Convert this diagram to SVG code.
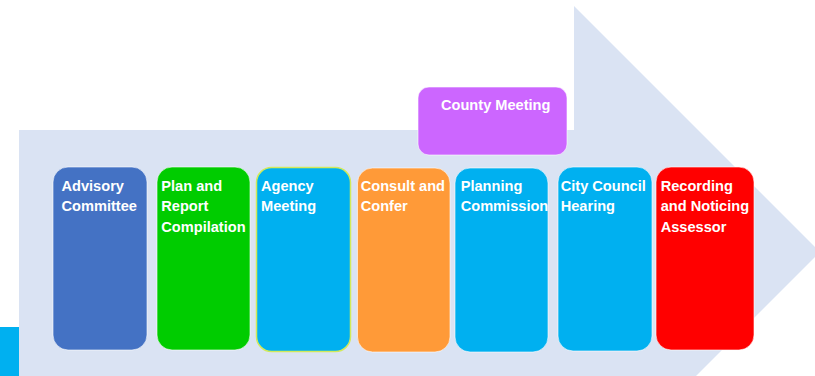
<svg xmlns="http://www.w3.org/2000/svg" width="815" height="376" viewBox="0 0 815 376">
<style>
.lbl{font-family:"Liberation Sans",Arial,sans-serif;font-weight:bold;font-size:14.6px;fill:#FFFFFF}
.box{stroke:#FFFFFF;stroke-opacity:0.6;stroke-width:1}
</style>
<rect width="815" height="376" fill="#FFFFFF"/>
<g id="arrow">
<polygon points="19,130 574,130 574,6 820,252 574,498 574,376 19,376" fill="#DAE3F3"/>
</g>
<rect x="0" y="327" width="19" height="49" fill="#00B0F0"/>
<g id="connectors"></g>
<g id="county">
<rect class="box" x="418" y="87" width="149" height="68" rx="11" fill="#CC66FF"/>
<text class="lbl" x="441" y="110">County Meeting</text>
</g>
<g id="advisory">
<rect class="box" x="53" y="167" width="94" height="183" rx="15" fill="#4472C4"/>
<text class="lbl" x="61.5" y="190.7">Advisory</text>
<text class="lbl" x="61.5" y="211.4">Committee</text>
</g>
<g id="plan">
<rect class="box" x="157" y="167" width="93" height="183" rx="15" fill="#00CC00"/>
<text class="lbl" x="161.3" y="190.7">Plan and</text>
<text class="lbl" x="161.3" y="211.4">Report</text>
<text class="lbl" x="161.3" y="232.1">Compilation</text>
</g>
<g id="agency">
<rect x="256.5" y="167.5" width="94" height="184" rx="15" fill="#00B0F0" stroke="#D2EA5A" stroke-width="1.5"/>
<text class="lbl" x="261" y="190.7">Agency</text>
<text class="lbl" x="261" y="211.4">Meeting</text>
</g>
<g id="consult">
<rect class="box" x="357.5" y="168" width="92.5" height="184" rx="15" fill="#FF9A38"/>
<text class="lbl" x="360.7" y="190.7">Consult and</text>
<text class="lbl" x="360.7" y="211.4">Confer</text>
</g>
<g id="planning">
<rect class="box" x="455" y="168" width="93" height="184" rx="15" fill="#00B0F0"/>
<text class="lbl" x="460.7" y="190.7">Planning</text>
<text class="lbl" x="460.7" y="211.4">Commission</text>
</g>
<g id="citycouncil">
<rect class="box" x="558" y="167" width="94" height="184" rx="15" fill="#00B0F0"/>
<text class="lbl" x="560.7" y="190.7">City Council</text>
<text class="lbl" x="560.7" y="211.4">Hearing</text>
</g>
<g id="recording">
<rect class="box" x="656" y="167" width="98" height="183" rx="15" fill="#FF0000"/>
<text class="lbl" x="660.7" y="190.7">Recording</text>
<text class="lbl" x="660.7" y="211.4">and Noticing</text>
<text class="lbl" x="660.7" y="232.1">Assessor</text>
</g>
</svg>
